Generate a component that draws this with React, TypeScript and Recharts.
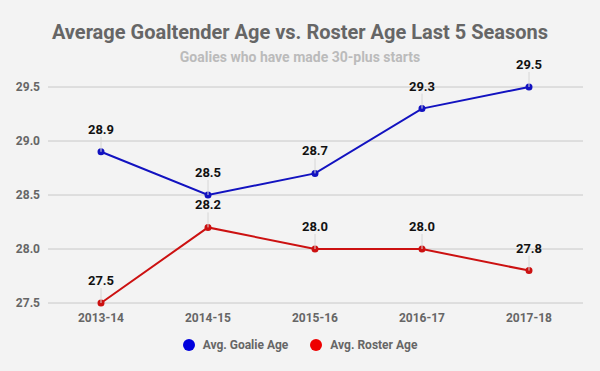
import { LineChart, Line, XAxis, YAxis, CartesianGrid } from 'recharts';

const seasons = ['2013-14', '2014-15', '2015-16', '2016-17', '2017-18'];
const goalieAge = [28.9, 28.5, 28.7, 29.3, 29.5];
const rosterAge = [27.5, 28.2, 28.0, 28.0, 27.8];
const yTicks = [27.5, 28.0, 28.5, 29.0, 29.5];

const data = seasons.map((s, i) => ({ season: s, goalie: goalieAge[i], roster: rosterAge[i] }));

const FONT = 'Roboto, "Noto Sans", sans-serif';
const GOALIE = '#1212c0';
const ROSTER = '#cc1111';

const legendItems = [
  { label: 'Avg. Goalie Age', color: '#0000dd' },
  { label: 'Avg. Roster Age', color: '#ee0000' },
];

// value label with a thin leader line down to the point
function PointLabel({ x, y, value }: any) {
  if (x == null || y == null) return null;
  return (
    <g>
      <line x1={x} x2={x} y1={y - 15} y2={y} stroke="#d6d6d6" strokeWidth={1} />
      <text x={x} y={y - 18} textAnchor="middle" fontFamily={FONT} fontWeight={700} fontSize={13} fill="#111">
        {Number(value).toFixed(1)}
      </text>
    </g>
  );
}

export default function App() {
  return (
    <div style={{ position: 'absolute', left: 0, top: 0, width: 600, height: 371, background: '#f3f3f3', fontFamily: FONT }}>
      <div style={{ position: 'absolute', top: 20, left: 0, width: 600, textAlign: 'center', fontSize: 20, fontWeight: 700, color: '#666' }}>
        Average Goaltender Age vs. Roster Age Last 5 Seasons
      </div>
      <div style={{ position: 'absolute', top: 49, left: 0, width: 600, textAlign: 'center', fontSize: 14, fontWeight: 700, color: '#bbb' }}>
        Goalies who have made 30-plus starts
      </div>
      <LineChart width={600} height={371} data={data} margin={{ top: 87, right: 17, bottom: 38, left: 0 }}>
        <CartesianGrid vertical={false} stroke="#c8c8c8" />
        <XAxis
          dataKey="season"
          axisLine={false}
          tickLine={false}
          tickMargin={4}
          padding={{ left: 53, right: 54 }}
          tick={{ fill: '#666', fontSize: 12, fontWeight: 700, fontFamily: FONT }}
        />
        <YAxis
          width={48}
          domain={[27.5, 29.5]}
          ticks={yTicks}
          axisLine={false}
          tickLine={false}
          tickFormatter={(v) => Number(v).toFixed(1)}
          tick={{ fill: '#666', fontSize: 12, fontWeight: 700, fontFamily: FONT }}
        />
        <Line
          dataKey="goalie"
          name="Avg. Goalie Age"
          stroke={GOALIE}
          strokeWidth={2}
          dot={{ r: 2.5, fill: GOALIE, stroke: GOALIE }}
          label={<PointLabel />}
          isAnimationActive={false}
        />
        <Line
          dataKey="roster"
          name="Avg. Roster Age"
          stroke={ROSTER}
          strokeWidth={2}
          dot={{ r: 2.5, fill: ROSTER, stroke: ROSTER }}
          label={<PointLabel />}
          isAnimationActive={false}
        />
      </LineChart>
      <div style={{ position: 'absolute', top: 338, left: 0, width: 600, display: 'flex', justifyContent: 'center', gap: 22, fontSize: 12, fontWeight: 700, color: '#666' }}>
        {legendItems.map((it) => (
          <div key={it.label} style={{ display: 'flex', alignItems: 'center' }}>
            <span style={{ width: 12, height: 12, borderRadius: 6, background: it.color, marginRight: 8, display: 'inline-block' }} />
            <span>{it.label}</span>
          </div>
        ))}
      </div>
    </div>
  );
}
